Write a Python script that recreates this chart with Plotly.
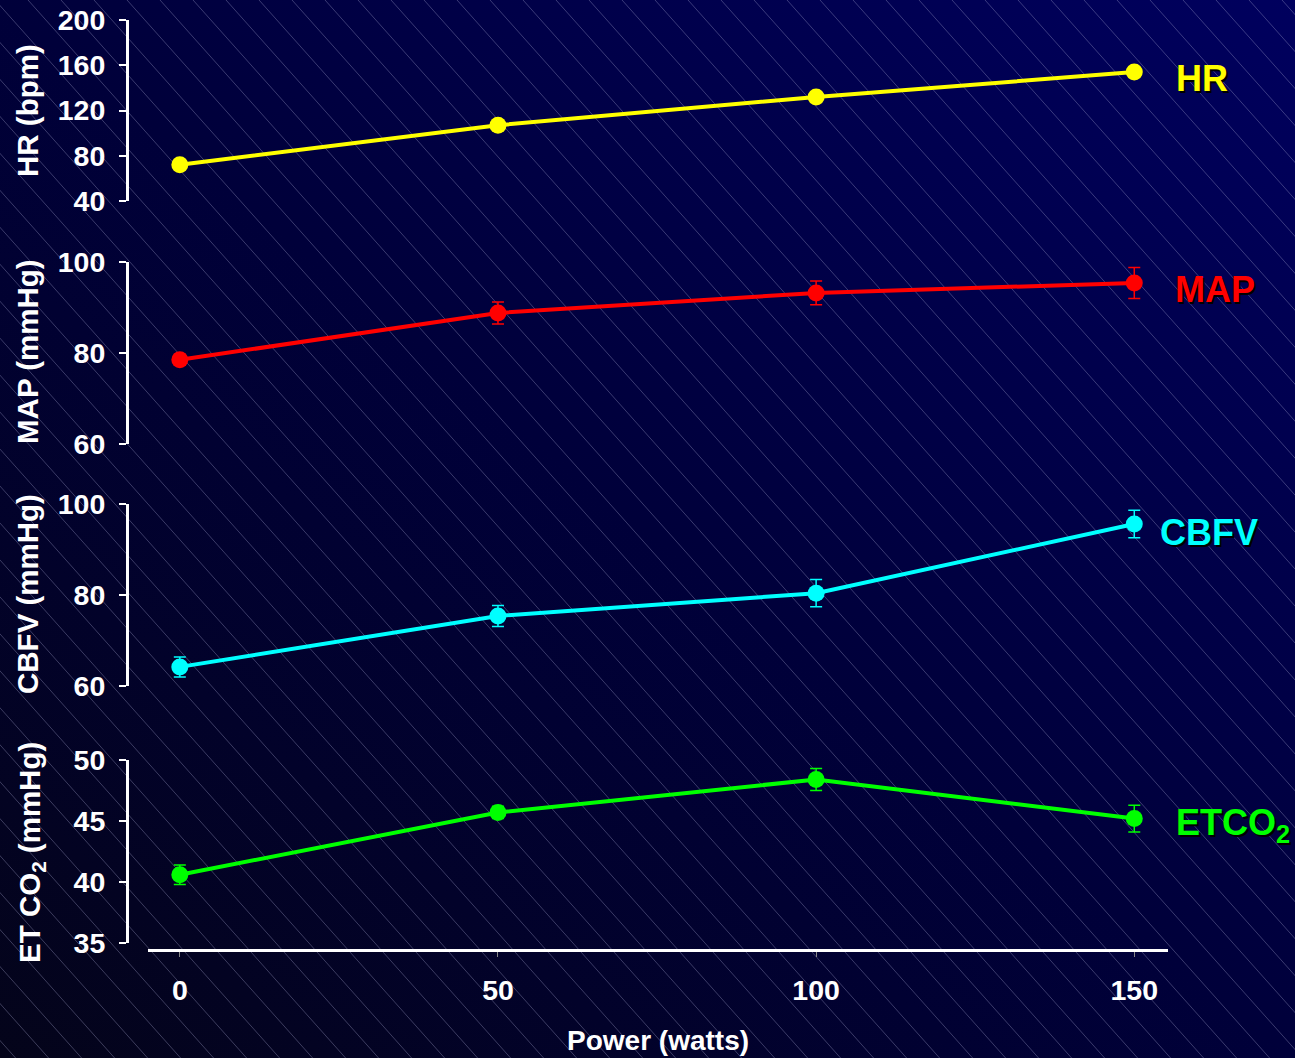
import base64
import plotly.graph_objects as go

# ---- data ----
power = [0, 50, 100, 150]
hr = [72, 107, 132, 154]
hr_err = [1.5, 2.0, 2.0, 2.5]
map_ = [78.5, 88.8, 93.2, 95.4]
map_err = [1.2, 2.4, 2.6, 3.4]
cbfv = [64.2, 75.4, 80.4, 95.6]
cbfv_err = [2.2, 2.3, 3.0, 3.0]
etco2 = [40.6, 45.7, 48.4, 45.2]
etco2_err = [0.8, 0.5, 0.9, 1.1]

x_ticks = [0, 50, 100, 150]
hr_ticks = [40, 80, 120, 160, 200]
map_ticks = [60, 80, 100]
cbfv_ticks = [60, 80, 100]
etco2_ticks = [35, 40, 45, 50]

W, H = 1295, 1058
FONT = "Liberation Sans, Arial, sans-serif"


def px(x):
    return x / W


def py(y):
    return 1 - y / H


# ---- background (gradient + diagonal hatching) as SVG ----
lines = []
slope = 1.12
for k in range(-40, 60):
    x0 = k * 33 - 5
    lines.append(
        f'<line x1="{x0}" y1="0" x2="{x0 + H / slope:.1f}" y2="{H}" '
        f'stroke="rgb(185,185,225)" stroke-opacity="0.32" stroke-width="1"/>'
    )
svg = (
    f'<svg xmlns="http://www.w3.org/2000/svg" width="{W}" height="{H}" viewBox="0 0 {W} {H}" preserveAspectRatio="none">'
    '<defs><linearGradient id="g" x1="0" y1="1" x2="1" y2="0">'
    '<stop offset="0" stop-color="#04041a"/>'
    '<stop offset="0.5" stop-color="#00003a"/>'
    '<stop offset="1" stop-color="#00005e"/>'
    '</linearGradient></defs>'
    f'<rect width="{W}" height="{H}" fill="url(#g)"/>' + "".join(lines) + "</svg>"
)
bg_uri = "data:image/svg+xml;base64," + base64.b64encode(svg.encode()).decode()

fig = go.Figure()

series = [
    (hr, hr_err, "#FFFF00", "y"),
    (map_, map_err, "#FF0000", "y2"),
    (cbfv, cbfv_err, "#00FFFF", "y3"),
    (etco2, etco2_err, "#00FF00", "y4"),
]
for vals, errs, col, ya in series:
    fig.add_trace(
        go.Scatter(
            x=power,
            y=vals,
            xaxis="x",
            yaxis=ya,
            mode="lines+markers",
            line=dict(color=col, width=4),
            marker=dict(color=col, size=17),
            error_y=dict(type="data", array=errs, visible=True, color=col,
                         thickness=1.5, width=6),
            showlegend=False,
            cliponaxis=False,
        )
    )

yax_common = dict(
    anchor="free",
    position=px(127),
    showline=True,
    linecolor="white",
    linewidth=3,
    ticks="outside",
    ticklen=7,
    tickwidth=1.5,
    tickcolor="white",
    showgrid=False,
    zeroline=False,
    automargin=False,
    tickfont=dict(family=FONT, size=28.5, color="white", weight="bold"),
    ticklabelstandoff=8,
)

fig.update_layout(
    width=W,
    height=H,
    autosize=False,
    margin=dict(l=0, r=0, t=0, b=0, pad=0, autoexpand=False),
    paper_bgcolor="#00002a",
    plot_bgcolor="rgba(0,0,0,0)",
    font=dict(family=FONT, color="white"),
    xaxis=dict(
        domain=[px(148), px(1168)],
        range=[-5, 155.3],
        anchor="free",
        position=py(950),
        showline=True,
        linecolor="white",
        linewidth=3,
        ticks="outside",
        ticklen=5,
        tickwidth=1,
        tickcolor="#888888",
        tickvals=x_ticks,
        showgrid=False,
        zeroline=False,
        automargin=False,
        tickfont=dict(family=FONT, size=28.5, color="white", weight="bold"),
        ticklabelstandoff=9,
    ),
    yaxis=dict(domain=[py(201), py(20)], range=[40, 200], tickvals=hr_ticks, **yax_common),
    yaxis2=dict(domain=[py(444), py(262)], range=[60, 100], tickvals=map_ticks, **yax_common),
    yaxis3=dict(domain=[py(686), py(504)], range=[60, 100], tickvals=cbfv_ticks, **yax_common),
    yaxis4=dict(domain=[py(943), py(760)], range=[35, 50], tickvals=etco2_ticks, **yax_common),
    images=[dict(source=bg_uri, xref="paper", yref="paper", x=0, y=1, sizex=1, sizey=1,
                 sizing="stretch", layer="below", xanchor="left", yanchor="top")],
)

# axis titles
titles = [
    ("HR (bpm)", 27, 111),
    ("MAP (mmHg)", 27, 352),
    ("CBFV (mmHg)", 27, 594),
    ("ET CO<sub>2</sub> (mmHg)", 31, 853),
]
for txt, xc, yc in titles:
    fig.add_annotation(
        text=f"<b>{txt}</b>", x=px(xc), y=py(yc), xref="paper", yref="paper",
        textangle=-90, showarrow=False, xanchor="center", yanchor="middle",
        font=dict(family=FONT, size=29.5, color="white"),
    )

fig.add_annotation(
    text="<b>Power (watts)</b>", x=px(658), y=py(1040), xref="paper", yref="paper",
    showarrow=False, xanchor="center", yanchor="middle",
    font=dict(family=FONT, size=28, color="white"),
)

# right-side labels with drop shadow
labels = [
    ("HR", "#FFFF00", 1174, 78),
    ("MAP", "#FF0000", 1173, 290),
    ("CBFV", "#00FFFF", 1158, 532),
    ("ETCO<sub>2</sub>", "#00FF00", 1174, 825),
]
for txt, col, xl, yc in labels:
    for dx, dy, c in [(2, 2, "#000000"), (0, 0, col)]:
        fig.add_annotation(
            text=f"<b>{txt}</b>", x=px(xl + dx), y=py(yc + dy), xref="paper", yref="paper",
            showarrow=False, xanchor="left", yanchor="middle",
            font=dict(family=FONT, size=36, color=c),
        )

fig.write_html("out.html", config={"displayModeBar": False},
               post_script="document.body.style.margin='0';")
